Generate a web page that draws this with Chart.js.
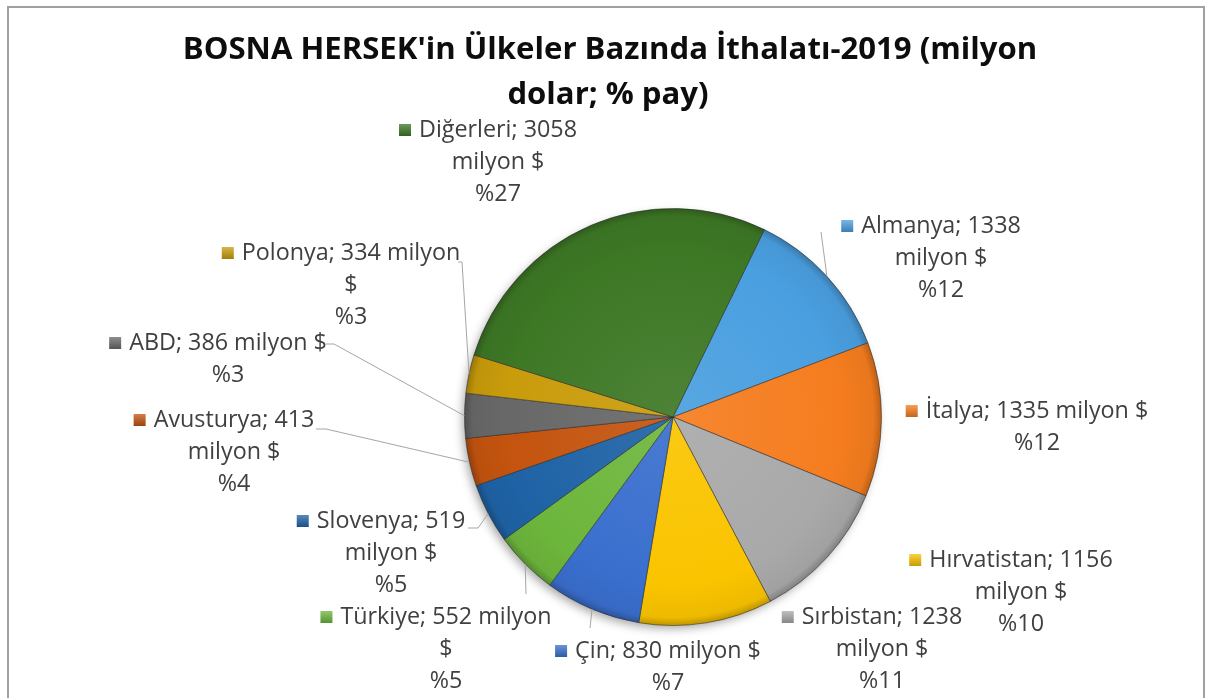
<!DOCTYPE html>
<html><head><meta charset="utf-8">
<script src="https://cdn.jsdelivr.net/npm/chart.js@4.4.0/dist/chart.umd.min.js"></script>
<style>html,body{margin:0;padding:0;background:#fff;overflow:hidden}canvas{display:block}</style>
</head><body><canvas id="c" width="1207" height="698"></canvas>
<script>
// ---- data ----
const countries = ['Almanya','İtalya','Sırbistan','Hırvatistan','Çin','Türkiye','Slovenya','Avusturya','ABD','Polonya','Diğerleri'];
const values = [1338,1335,1238,1156,830,552,519,413,386,334,3058];
const shares = [12,12,11,10,7,5,5,4,3,3,27];
const titleLines = ["BOSNA HERSEK'in Ülkeler Bazında İthalatı-2019 (milyon", "dolar; % pay)"];
const unit = 'milyon $';

// ---- styles / layout ----
const colors = ['#4a9fe0','#f57d1f','#a9a9a9','#fac400','#3a6fce','#6db63c','#1f63a6','#c4540f','#686868','#c99c0b','#3d7825'];
// wrap: a = "name; value" / "milyon $" ; b = "name; value milyon $" ; c = "name; value milyon" / "$"
const labelLayout = [
  {x:941, y:226, wrap:'a', lead:[[821,232]]},
  {x:1037,y:411, wrap:'b', lead:null},
  {x:882, y:617, wrap:'a', lead:null},
  {x:1021,y:560, wrap:'a', lead:null},
  {x:668, y:651, wrap:'b', lead:[[590,628]]},
  {x:446, y:617, wrap:'c', lead:[[526,594]]},
  {x:391, y:521, wrap:'a', lead:[[468,528],[478,528]]},
  {x:234, y:420, wrap:'a', lead:[[316,429],[326,429]]},
  {x:228, y:343, wrap:'b', lead:[[326,344],[334,344]]},
  {x:351, y:253, wrap:'c', lead:[[458,262],[462,262]]},
  {x:498, y:130, wrap:'a', lead:null}
];
const LINE_H = 32;
const LABEL_FAMILY = '"Open Sans"';
const TITLE_FAMILY = '"Open Sans"';

function labelText(i){
  const first = countries[i] + '; ' + values[i];
  const pct = '%' + shares[i];
  const w = labelLayout[i].wrap;
  if (w === 'a') return [first, unit, pct];
  if (w === 'b') return [first + ' ' + unit, pct];
  return [first + ' milyon', '$', pct];
}

function shade(hex, f){
  const n = parseInt(hex.slice(1),16);
  let r=(n>>16)&255, g=(n>>8)&255, b=n&255;
  if (f>=0){ r+= (255-r)*f; g+=(255-g)*f; b+=(255-b)*f; }
  else { r*=1+f; g*=1+f; b*=1+f; }
  return 'rgb('+Math.round(r)+','+Math.round(g)+','+Math.round(b)+')';
}

function fitSize(ctx, weight, family, text, target){
  ctx.font = weight + ' 20px ' + family;
  const w = ctx.measureText(text).width;
  return 20 * target / w;
}

function sliceFill(context){
  const chart = context.chart, area = chart.chartArea;
  const base = colors[context.dataIndex];
  if (!area) return base;
  const cx=(area.left+area.right)/2, cy=(area.top+area.bottom)/2;
  const r=Math.min(area.right-area.left, area.bottom-area.top)/2;
  const g = chart.ctx.createRadialGradient(cx,cy,0,cx,cy,r);
  g.addColorStop(0, shade(base,0.08));
  g.addColorStop(0.8, base);
  g.addColorStop(0.96, shade(base,-0.05));
  g.addColorStop(1, shade(base,-0.25));
  return g;
}

const framePlugin = {
  id:'frame',
  beforeDraw(chart){
    const ctx=chart.ctx;
    ctx.save();
    ctx.fillStyle='#fff'; ctx.fillRect(0,0,chart.width,chart.height);
    ctx.strokeStyle='#a0a0a0'; ctx.lineWidth=2;
    ctx.strokeRect(8,7,1196,720);
    ctx.restore();
  },
  beforeDatasetsDraw(chart){
    const arc = chart.getDatasetMeta(0).data[0];
    if(!arc) return;
    const ctx=chart.ctx;
    ctx.save();
    ctx.shadowColor='rgba(0,0,0,0.35)'; ctx.shadowBlur=10; ctx.shadowOffsetX=-3; ctx.shadowOffsetY=4;
    ctx.fillStyle='#fff';
    ctx.beginPath(); ctx.arc(arc.x, arc.y, arc.outerRadius-1, 0, Math.PI*2); ctx.fill();
    ctx.restore();
  },
  afterDraw(chart){
    const ctx=chart.ctx;
    ctx.save();
    // title
    const ts = fitSize(ctx, 'bold', TITLE_FAMILY, titleLines[0], 855);
    ctx.font='bold '+ts.toFixed(2)+'px '+TITLE_FAMILY; ctx.fillStyle='#0d0d0d'; ctx.textAlign='center'; ctx.textBaseline='middle';
    ctx.fillText(titleLines[0], 610, 50);
    ctx.fillText(titleLines[1], 608, 95);
    // labels
    const ls = fitSize(ctx, 'normal', LABEL_FAMILY, 'Diğerleri; 3058', 158);
    const meta=chart.getDatasetMeta(0);
    meta.data.forEach((arc,i)=>{
      const L=labelLayout[i];
      const lines=labelText(i);
      if (L.lead){
        const mid=(arc.startAngle+arc.endAngle)/2;
        const px=arc.x+Math.cos(mid)*arc.outerRadius, py=arc.y+Math.sin(mid)*arc.outerRadius;
        ctx.strokeStyle='#a6a6a6'; ctx.lineWidth=1;
        ctx.beginPath(); ctx.moveTo(L.lead[0][0],L.lead[0][1]);
        for(let k=1;k<L.lead.length;k++) ctx.lineTo(L.lead[k][0],L.lead[k][1]);
        ctx.lineTo(px,py); ctx.stroke();
      }
      ctx.font='normal '+ls.toFixed(2)+'px '+LABEL_FAMILY; ctx.fillStyle='#404040'; ctx.textAlign='center'; ctx.textBaseline='middle';
      lines.forEach((t,k)=>ctx.fillText(t, L.x, L.y+k*LINE_H));
      const w=ctx.measureText(lines[0]).width;
      const kx=L.x-w/2-20, ky=L.y-6;
      const g=ctx.createLinearGradient(kx,ky,kx,ky+12);
      g.addColorStop(0, shade(colors[i],0.25)); g.addColorStop(1, shade(colors[i],-0.2));
      ctx.fillStyle=g; ctx.fillRect(kx,ky,12,12);
    });
    ctx.restore();
  }
};

new Chart(document.getElementById('c'), {
  type:'pie',
  data:{ labels:countries, datasets:[{ data:values, backgroundColor:sliceFill, borderColor:'rgba(40,40,40,0.55)', borderWidth:1 }]},
  options:{
    responsive:false, animation:false, devicePixelRatio:1,
    rotation:26,
    layout:{ padding:{left:464, right:325, top:208, bottom:72} },
    plugins:{ legend:{display:false}, tooltip:{enabled:false}, title:{display:false} }
  },
  plugins:[framePlugin]
});
</script>
</body></html>
